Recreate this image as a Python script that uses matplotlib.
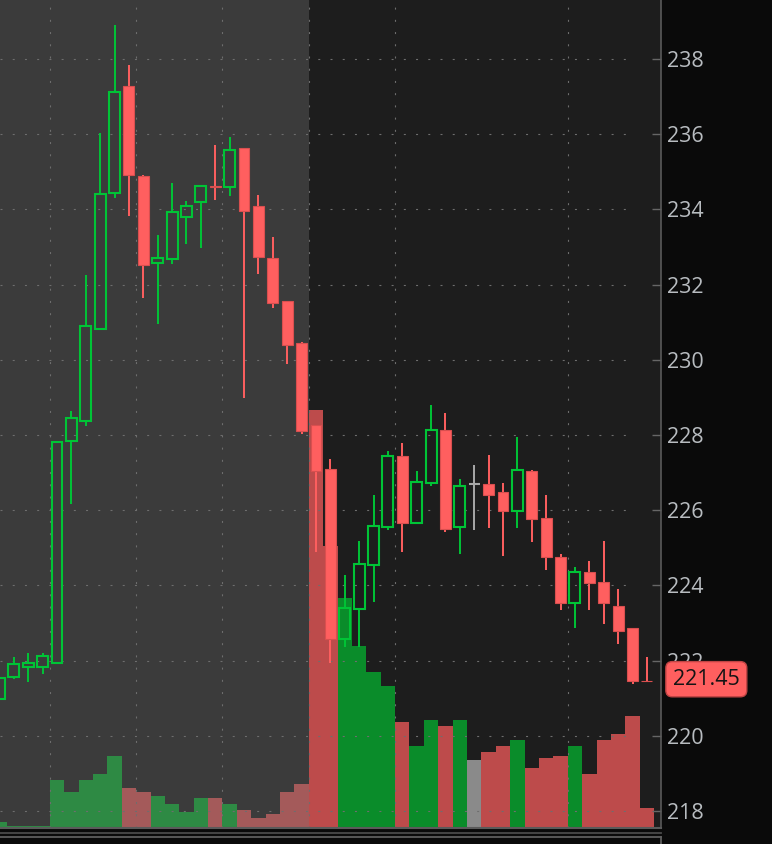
import numpy as np
import matplotlib
matplotlib.use("Agg")
import matplotlib.pyplot as plt
import matplotlib.transforms as mtransforms
from matplotlib.lines import Line2D

# OHLC per bar (price)
opens = [220.98, 221.56, 221.83, 221.83, 221.94, 227.84, 228.37, 230.82, 234.44, 237.28,
         234.89, 232.57, 232.68, 233.80, 234.20, 234.63, 234.60, 235.63, 234.09, 232.71,
         231.56, 230.45, 228.27, 227.10, 222.57, 223.37, 224.54, 225.55, 227.44, 225.66,
         226.72, 228.13, 225.55, 226.70, 226.70, 226.48, 225.98, 227.04, 225.79, 224.76,
         223.53, 224.36, 224.09, 223.45, 222.87, 221.46]
highs = [221.88, 222.10, 222.20, 222.20, 227.84, 228.64, 232.26, 236.03, 238.90, 237.84,
         234.91, 233.32, 234.70, 234.22, 234.62, 235.71, 235.93, 235.63, 234.38, 233.27,
         231.56, 230.47, 228.27, 227.36, 224.28, 225.18, 226.40, 227.57, 227.79, 227.04,
         228.80, 228.59, 226.83, 227.20, 227.47, 226.72, 227.95, 227.07, 226.40, 224.84,
         224.49, 224.65, 225.18, 223.90, 222.87, 222.10]
lows = [220.95, 221.51, 221.43, 221.64, 221.94, 226.17, 228.24, 230.82, 234.30, 233.82,
        231.64, 230.95, 232.55, 233.08, 232.97, 234.25, 234.36, 228.98, 232.28, 231.38,
        229.89, 228.03, 224.89, 221.94, 222.36, 222.36, 223.56, 225.47, 224.89, 225.66,
        226.64, 225.42, 224.84, 225.47, 225.53, 224.78, 225.53, 225.15, 224.41, 223.35,
        222.87, 223.35, 222.97, 222.44, 221.38, 221.45]
closes = [221.54, 221.91, 221.94, 222.12, 227.81, 228.45, 230.90, 234.41, 237.12, 234.91,
          232.52, 232.71, 233.93, 234.09, 234.62, 234.60, 235.58, 233.96, 232.73, 231.51,
          230.39, 228.11, 227.04, 222.57, 223.40, 224.57, 225.58, 227.44, 225.66, 226.75,
          228.13, 225.50, 226.64, 226.70, 226.40, 225.98, 227.07, 225.77, 224.76, 223.53,
          224.36, 224.06, 223.53, 222.79, 221.46, 221.45]
# volume, millions
volumes = [0.6, 0.2, 0.2, 0.2, 4.8, 3.6, 4.8, 5.4, 7.2, 4.0,
           3.6, 3.2, 2.4, 1.6, 3.0, 3.0, 2.4, 1.8, 1.0, 1.4,
           3.6, 4.4, 41.8, 28.2, 23.0, 18.2, 15.6, 14.2, 10.6, 8.2,
           10.8, 10.2, 10.8, 6.8, 7.6, 8.2, 8.8, 6.0, 7.0, 7.2,
           8.2, 5.4, 8.8, 9.4, 11.2, 2.0]
last_price = 221.45
price_ticks = list(range(218, 239, 2))
time_grid = [3.5, 9.5, 15.5, 21.5, 27.5, 39.5]
session_split = 21.5  # pre-market / regular session

UP = "#00c436"
DOWN = "#ff5f5f"
FLAT = "#a8a8a8"
GRID = "#6e6e6e"

o = np.array(opens)
h = np.array(highs)
l = np.array(lows)
c = np.array(closes)
v = np.array(volumes)
x = np.arange(len(o))
up = c > o
down = c < o
flat = c == o

W, H = 772, 844
fig = plt.figure(figsize=(W / 100, H / 100), dpi=100, facecolor="#0a0a0a")
rect = [0, 16 / H, 661 / W, 828 / H]
ax_vol = fig.add_axes(rect, zorder=0)
ax = fig.add_axes(rect, zorder=1, sharex=ax_vol)
ax.patch.set_visible(False)

xlim = (0.04, 45.98)
ax_vol.set_xlim(*xlim)
ax.set_ylim(217.548, 239.569)
ax_vol.set_ylim(0, 82.8)

# background: pre-market shaded lighter
ax_vol.set_facecolor("#1d1d1d")
ax_vol.axvspan(xlim[0], session_split, color="#3b3b3b", lw=0)

# volume bars, muted in the shaded part
pre = x < session_split
vcol = []
for i in range(len(x)):
    if up[i]:
        vcol.append("#2e8a44" if pre[i] else "#0a8c2a")
    elif down[i]:
        vcol.append("#a45a5a" if pre[i] else "#bd4b4b")
    else:
        vcol.append("#8a8a8a")
ax_vol.bar(x, v, width=1.0, color=vcol, lw=0)
ax_vol.set_xticks([])
ax_vol.set_yticks([])
for s in ax_vol.spines.values():
    s.set_visible(False)

# grid
dots = (0, (1.8, 9.2))
ax.hlines(price_ticks, xlim[0], 43.8, colors=GRID, lw=0.8, linestyles=[dots], zorder=0.5)
ax.vlines(time_grid, 217.548, 239.569, colors=GRID, lw=0.8, linestyles=[dots], zorder=0.5)

# candles
bw = 0.76
top = np.maximum(o, c)
bot = np.minimum(o, c)
body = np.maximum(top - bot, 0.012)

ax.vlines(x[up], top[up], h[up], color=UP, lw=1.4, zorder=3)
ax.vlines(x[up], l[up], bot[up], color=UP, lw=1.4, zorder=3)
ax.bar(x[up], body[up], bottom=bot[up], width=bw, facecolor="none",
       edgecolor=UP, lw=1.5, zorder=3)

ax.vlines(x[down], l[down], h[down], color=DOWN, lw=1.4, zorder=3)
ax.bar(x[down], body[down], bottom=bot[down], width=bw, color=DOWN,
       edgecolor="#d94f4f", lw=0.8, zorder=4)

ax.vlines(x[flat], l[flat], h[flat], color=FLAT, lw=1.4, zorder=3)
ax.hlines(c[flat], x[flat] - bw / 2, x[flat] + bw / 2, color=FLAT, lw=1.5, zorder=3)

# price axis on the right
ax.yaxis.tick_right()
ax.set_yticks(price_ticks)
ax.set_yticklabels([str(t) for t in price_ticks], family="Open Sans")
ax.tick_params(axis="y", direction="in", length=6.5, width=1, color="#666666",
               labelcolor="#b8bcc0", labelsize=15.5, pad=4.3)
ax.set_xticks([])
for s in ("top", "left"):
    ax.spines[s].set_visible(False)
ax.spines["right"].set_color("#5a5a5a")
ax.spines["right"].set_linewidth(1.2)
ax.spines["bottom"].set_color("#5a5a5a")
ax.spines["bottom"].set_linewidth(1.5)

# last price tag
trans = mtransforms.blended_transform_factory(ax.transAxes, ax.transData)
ax.annotate(f"{last_price:.2f}", xy=(1, last_price), xycoords=trans,
            xytext=(8.6, 1.5), textcoords="offset points", ha="left", va="center",
            fontsize=15.5, family="Open Sans", color="#141414", zorder=10,
            annotation_clip=False,
            bbox=dict(boxstyle="round,pad=0.33,rounding_size=0.3", fc=DOWN,
                      ec="#c04444", lw=1))

# strip under the chart
for ypx, col in ((833, "#4a4a4a"), (837, "#5e5e5e")):
    yy = 1 - ypx / H
    fig.add_artist(Line2D([0, 661 / W], [yy, yy], color=col, lw=1.3,
                          transform=fig.transFigure))
fig.add_artist(Line2D([661 / W, 661 / W], [0, 1 - 837 / H], color="#5e5e5e", lw=1.3,
                      transform=fig.transFigure))

fig.savefig("out.png", dpi=100, facecolor=fig.get_facecolor())
